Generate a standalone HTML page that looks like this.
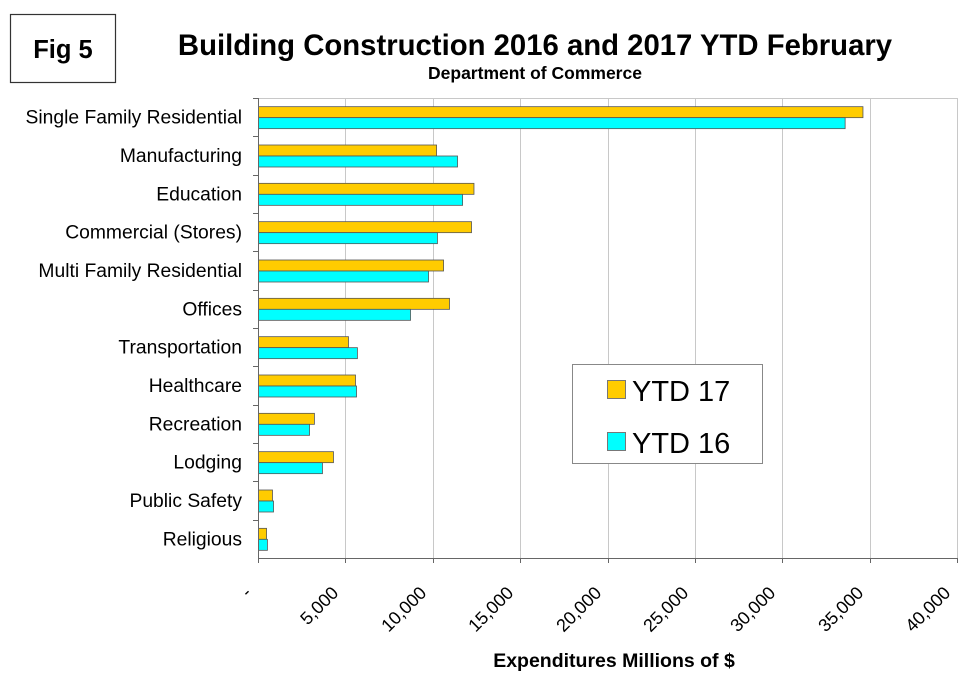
<!DOCTYPE html>
<html><head><meta charset="utf-8"><style>
body{margin:0;background:#fff;}
svg text{font-family:"Liberation Sans",Arial,sans-serif;}
</style></head><body>
<svg width="967" height="673" viewBox="0 0 967 673" xmlns="http://www.w3.org/2000/svg">
<rect x="0" y="0" width="967" height="673" fill="#fff"/>
<rect x="10.5" y="14.5" width="105" height="68" fill="#fff" stroke="#333" stroke-width="1.2"/>
<text x="63" y="58" text-anchor="middle" font-size="25.5" font-weight="bold">Fig 5</text>
<text x="535" y="55" text-anchor="middle" font-size="29.3" font-weight="bold">Building Construction 2016 and 2017 YTD February</text>
<text x="535" y="79" text-anchor="middle" font-size="17.5" font-weight="bold">Department of Commerce</text>
<g id="grid"></g>
<g id="bars"></g>
<g id="axes"></g>
<text x="614" y="667" text-anchor="middle" font-size="19.5" font-weight="bold">Expenditures Millions of $</text>
<g>
<rect x="572.5" y="364.5" width="190" height="99" fill="#fff" stroke="#888"/>
<rect x="607.5" y="380.5" width="18" height="18" fill="#FFCC00" stroke="#777"/>
<text x="632" y="401" font-size="29">YTD 17</text>
<rect x="607.5" y="432.5" width="18" height="18" fill="#00FFFF" stroke="#777"/>
<text x="632" y="453" font-size="29">YTD 16</text>
</g>
</svg>
<script>
const categories=["Single Family Residential","Manufacturing","Education","Commercial (Stores)","Multi Family Residential","Offices","Transportation","Healthcare","Recreation","Lodging","Public Safety","Religious"];
const ytd17=[34590,10190,12330,12190,10590,10930,5150,5550,3200,4290,800,460];
const ytd16=[33570,11390,11680,10240,9730,8700,5660,5610,2920,3660,860,510];
const tickValues=[0,5000,10000,15000,20000,25000,30000,35000,40000];
const tickLabels=["-","5,000","10,000","15,000","20,000","25,000","30,000","35,000","40,000"];
const NS="http://www.w3.org/2000/svg";
const X0=258,X1=957,Y0=98,Y1=558,XMAX=40000;
const band=(Y1-Y0)/categories.length;
function xs(v){return X0+v/XMAX*(X1-X0);}
function mk(tag,attrs,parent){const e=document.createElementNS(NS,tag);for(const k in attrs)e.setAttribute(k,attrs[k]);parent.appendChild(e);return e;}
const gridG=document.getElementById('grid'),barsG=document.getElementById('bars'),axesG=document.getElementById('axes');
tickValues.forEach((v,i)=>{
  const x=Math.round(xs(v))+0.5;
  if(v>0){const g=mk('line',{x1:x,x2:x,y1:Y0,y2:Y1,stroke:'#c8c8c8','stroke-width':1},gridG);
    
    }
  const t=mk('line',{x1:x,x2:x,y1:Y1,y2:Y1+5,stroke:'#666'},axesG);
  
  
  const lx=x-6,ly=Y1+36;
  const lb=mk('text',{x:lx,y:ly,'text-anchor':'end','font-size':18,transform:`rotate(-45 ${lx} ${ly})`},axesG);
  lb.textContent=tickLabels[i];
  
  
});
const plotTop=mk('line',{x1:X0,x2:X1,y1:Y0+0.5,y2:Y0+0.5,stroke:'#c8c8c8'},gridG);


const xa=mk('line',{x1:X0,x2:X1,y1:Y1+0.5,y2:Y1+0.5,stroke:'#666'},axesG);


const ya=mk('line',{x1:X0+0.5,x2:X0+0.5,y1:Y0,y2:Y1,stroke:'#666'},axesG);


categories.forEach((c,i)=>{
  const by=Y0+i*band;
  const tk=mk('line',{x1:X0-5,x2:X0,y1:Math.round(by)+0.5,y2:Math.round(by)+0.5,stroke:'#666'},axesG);
  
  
  const cy=by+band/2;
  const lb=mk('text',{x:242,y:cy+6.5,'text-anchor':'end','font-size':19.3},axesG);
  lb.textContent=c;
  
  
  const b1=mk('rect',{x:X0+0.5,y:cy-10.5,width:xs(ytd17[i])-X0,height:11,fill:'#FFCC00',stroke:'#555','stroke-width':0.8},barsG);
  
  
  const b2=mk('rect',{x:X0+0.5,y:cy+0.5,width:xs(ytd16[i])-X0,height:11,fill:'#00FFFF',stroke:'#555','stroke-width':0.8},barsG);
  
  
});
</script>
</body></html>
